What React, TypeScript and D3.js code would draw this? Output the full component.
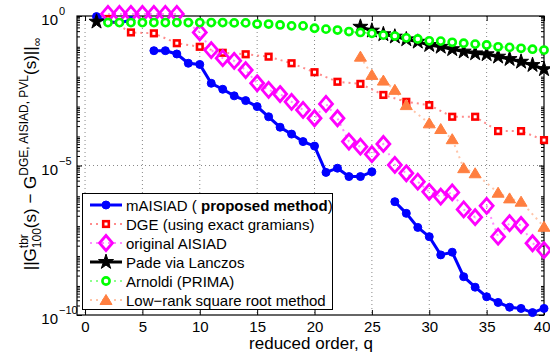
import React, { useRef, useEffect } from "react";
import * as d3 from "d3";

// axis ticks
const xTicks = [0, 5, 10, 15, 20, 25, 30, 35, 40];
const yTickExps = [0, -5, -10];

// values are log10 of the error, null = break in the line
const maisiadQ = [1, 2, 3, 4, 5, 6, 7, 8, 9, 10, 11, 12, 13, 14, 15, 16, 17, 18, 19, 20,
  21, 22, 23, 24, 25, 26, 27, 28, 29, 30, 31, 32, 33, 34, 35, 36, 37, 38, 39, 40];
const maisiadExp = [-0.02, -0.2, -0.22, -0.15, null, -1.16, -1.16, -1.27, -1.58, -1.62,
  -2.25, -2.45, -2.67, -2.83, -3.03, -3.37, -3.72, -3.95, -4.2, -4.35,
  -5.23, -5.09, -5.37, -5.37, -5.21, null, -6.21, -6.6, -7.07, -7.38,
  -7.99, -7.9, -8.72, -9.07, -9.39, -9.58, -9.74, -9.78, -9.92, -9.78];

const dgeQ = [2, 4, 6, 8, 10, 12, 14, 16, 18, 20, 22, 24, 26, 28, 30, 32, 34, 36, 38, 40];
const dgeExp = [-0.1, -0.55, -0.58, -0.91, -1.03, -1.23, -1.28, -1.36, -1.58, -1.88,
  -2.2, -2.27, -2.64, -2.87, -2.98, -3.37, -3.37, -3.85, -3.85, -4.15];

const aisiadQ = [2, 3, 4, 5, 6, 7, 8, 10, 11, 12, 13, 14, 15, 16, 17, 18, 19, 20, 21, 22,
  23, 24, 25, 26, 27, 28, 29, 30, 31, 32, 33, 34, 35, 36, 37, 38, 39, 40];
const aisiadExp = [0.07, 0.07, 0.07, 0.07, 0.07, 0.07, 0.07, -0.55, -1.14, -1.41,
  -1.5, -1.81, -2.25, -2.47, -2.61, -2.87, -3.14, -3.42, -2.94, -3.42,
  -4.2, -4.37, -4.62, -4.28, -4.98, -5.26, -5.54, -5.88, -6.04, -5.9,
  -6.47, -6.73, -6.35, -7.38, -6.93, -6.99, -7.6, -7.83];

const padeQ = [1, 2, 24, 25, 26, 27, 28, 29, 30, 31, 32, 33, 34, 35, 36, 37, 38, 39, 40];
const padeExp = [-0.19, null, -0.36, -0.49, -0.61, -0.69, -0.78, -0.86, -0.97, -1.03,
  -1.11, -1.19, -1.25, -1.28, -1.36, -1.44, -1.53, -1.64, -1.78];

const arnoldiQ = [2, 3, 4, 5, 6, 7, 8, 9, 10, 11, 12, 13, 14, 15, 16, 17, 18, 19, 20, 21,
  22, 23, 24, 25, 26, 27, 28, 29, 30, 31, 32, 33, 34, 35, 36, 37, 38, 39, 40];
const arnoldiExp = [-0.22, -0.22, -0.22, -0.22, -0.22, -0.22, -0.22, -0.22, -0.22, -0.22,
  -0.22, -0.23, -0.23, -0.27, -0.27, -0.3, -0.33, -0.33, -0.41, -0.44,
  -0.47, -0.52, -0.55, -0.58, -0.64, -0.67, -0.73, -0.77, -0.83, -0.84,
  -0.88, -0.91, -0.94, -0.97, -1.03, -1.05, -1.08, -1.11, -1.14];

const lowRankQ = [24, 25, 26, 27, 28, 30, 31, 32, 33, 34, 36, 37, 38, 40];
const lowRankExp = [-1.36, -1.97, -2.16, -2.47, -2.98, -3.59, -3.78, -4.12, -5.09, -5.26,
  -5.91, -6.1, -6.21, -7.05];

const legendLabels = [
  "mAISIAD",
  "DGE (using exact gramians)",
  "original AISIAD",
  "Pade via Lanczos",
  "Arnoldi (PRIMA)",
  "Low\u2212rank square root method",
];

type Pt = [number, number | null];

const FONT = "'Liberation Sans', Arial, Helvetica, sans-serif";

export default function App() {
  const ref = useRef<SVGSVGElement | null>(null);

  useEffect(() => {
    const svg = d3.select(ref.current);
    svg.selectAll("*").remove();

    const left = 77, right = 544, top = 16, bottom = 315;
    const x = d3.scaleLinear().domain([-0.7, 40]).range([left, right]);
    const y = d3.scaleLog().domain([1e-10, 1]).range([bottom, top]);
    const yv = (e: number) => y(Math.pow(10, e));

    svg.append("rect").attr("width", 550).attr("height", 356).attr("fill", "#fff");

    // dotted grid
    const grid = svg.append("g").attr("stroke", "#888").attr("stroke-dasharray", "1,3");
    grid.selectAll("line.gx")
      .data(xTicks.filter((t) => t < 40))
      .join("line")
      .attr("x1", (d) => x(d)).attr("x2", (d) => x(d))
      .attr("y1", top).attr("y2", bottom);
    grid.selectAll("line.gy")
      .data(yTickExps.filter((e) => e !== 0 && e !== -10))
      .join("line")
      .attr("x1", left).attr("x2", right)
      .attr("y1", (d) => yv(d)).attr("y2", (d) => yv(d));

    // axes (inward ticks)
    const xAxis = svg.append("g")
      .attr("transform", `translate(0,${bottom})`)
      .call(d3.axisBottom(x).tickValues(xTicks).tickSize(-5).tickPadding(6).tickFormat(d3.format("d")));
    xAxis.selectAll("text").style("font-family", FONT).style("font-size", "15px").attr("fill", "#000");
    // last label sits against the window edge
    xAxis.selectAll<SVGTextElement, number>("text")
      .filter((d) => d === 40)
      .attr("text-anchor", "end")
      .attr("x", 6);
    svg.append("g")
      .attr("transform", `translate(0,${top})`)
      .call(d3.axisTop(x).tickValues(xTicks).tickSize(-5).tickFormat(() => ""));
    svg.append("g")
      .attr("transform", `translate(${left},0)`)
      .call(d3.axisLeft(y).tickValues(yTickExps.map((e) => Math.pow(10, e))).tickSize(-5).tickFormat(() => ""));
    svg.append("g")
      .attr("transform", `translate(${right},0)`)
      .call(d3.axisRight(y).tickValues(yTickExps.map((e) => Math.pow(10, e))).tickSize(-5).tickFormat(() => ""));
    svg.selectAll(".domain").remove();
    svg.selectAll(".tick line").attr("stroke", "#000");

    // log minor ticks
    const minors: number[] = [];
    for (let k = -10; k < 0; k++) for (let m = 2; m <= 9; m++) minors.push(m * Math.pow(10, k));
    const mg = svg.append("g").attr("stroke", "#000");
    mg.selectAll("line.ml").data(minors).join("line")
      .attr("x1", left).attr("x2", left + 3).attr("y1", (d) => y(d)).attr("y2", (d) => y(d));
    mg.selectAll("line.mr").data(minors).join("line")
      .attr("x1", right).attr("x2", right - 3).attr("y1", (d) => y(d)).attr("y2", (d) => y(d));

    // y tick labels 10^k
    yTickExps.forEach((e) => {
      svg.append("text").attr("font-family", FONT).attr("fill", "#000")
        .attr("x", 58).attr("y", yv(e) + 9).attr("text-anchor", "end")
        .attr("font-size", 15).text("10");
      svg.append("text").attr("font-family", FONT).attr("fill", "#000")
        .attr("x", 59).attr("y", yv(e) - 1).attr("font-size", 11)
        .text(e === 0 ? "0" : "\u2212" + String(-e));
    });

    // frame
    svg.append("rect")
      .attr("x", left).attr("y", top)
      .attr("width", right - left).attr("height", bottom - top)
      .attr("fill", "none").attr("stroke", "#000").attr("stroke-width", 1.2);

    const zip = (qs: number[], es: (number | null)[]): Pt[] => qs.map((q, i) => [q, es[i]]);
    const line = d3.line<Pt>()
      .defined((d) => d[1] !== null)
      .x((d) => x(d[0]))
      .y((d) => yv(d[1] as number));

    const diamond = "M0,-7.5L6.5,0L0,7.5L-6.5,0Z";
    const triangle = "M0,-5.5L6,4.5L-6,4.5Z";
    const star = d3.symbol().type(d3.symbolStar).size(70)() as string;

    const series = [
      { pts: zip(maisiadQ, maisiadExp), color: "#0000ff", lw: 3, dash: null, marker: "circle" },
      { pts: zip(dgeQ, dgeExp), color: "#ff0000", lw: 2, dash: "2,4", marker: "square" },
      { pts: zip(aisiadQ, aisiadExp), color: "#ff00ff", lw: 2, dash: "2,4", marker: "diamond" },
      { pts: zip(padeQ, padeExp), color: "#000000", lw: 3, dash: null, marker: "star" },
      { pts: zip(arnoldiQ, arnoldiExp), color: "#00ff00", lw: 2, dash: "2,4", marker: "ring" },
      { pts: zip(lowRankQ, lowRankExp), color: "#ff7f40", lw: 2, dash: "2,4", marker: "triangle" },
    ];

    const drawMarker = (g: d3.Selection<SVGGElement, unknown, null, undefined>, kind: string, color: string) => {
      if (kind === "circle") {
        g.append("circle").attr("r", 4).attr("fill", color).attr("stroke", color).attr("stroke-width", 1);
      } else if (kind === "square") {
        g.append("rect").attr("x", -2.8).attr("y", -2.8).attr("width", 5.6).attr("height", 5.6)
          .attr("fill", "#fff").attr("stroke", color).attr("stroke-width", 2.6);
      } else if (kind === "diamond") {
        g.append("path").attr("d", diamond).attr("fill", "none").attr("stroke", color).attr("stroke-width", 2.8);
      } else if (kind === "star") {
        g.append("path").attr("d", star).attr("fill", color).attr("stroke", color).attr("stroke-width", 1);
      } else if (kind === "ring") {
        g.append("circle").attr("r", 3.6).attr("fill", "#fff").attr("stroke", color).attr("stroke-width", 2.6);
      } else if (kind === "triangle") {
        g.append("path").attr("d", triangle).attr("fill", color).attr("stroke", color).attr("stroke-width", 1);
      }
    };

    const plot = svg.append("g");
    series.forEach((s) => {
      plot.append("path")
        .attr("d", line(s.pts))
        .attr("fill", "none")
        .attr("stroke", s.color)
        .attr("stroke-width", s.lw)
        .attr("stroke-opacity", s.dash ? 0.45 : 1)
        .attr("stroke-dasharray", s.dash);
      s.pts.filter((d) => d[1] !== null).forEach((d) => {
        const g = plot.append("g").attr("transform", `translate(${x(d[0])},${yv(d[1] as number)})`);
        drawMarker(g, s.marker, s.color);
      });
    });

    // legend
    const lg = svg.append("g");
    lg.append("rect").attr("x", 82.5).attr("y", 193.5).attr("width", 250).attr("height", 116)
      .attr("fill", "#fff").attr("stroke", "#000").attr("stroke-width", 1);
    series.forEach((s, i) => {
      const cy = 205 + i * 19;
      lg.append("line").attr("x1", 90).attr("x2", 122).attr("y1", cy).attr("y2", cy)
        .attr("stroke", s.color).attr("stroke-width", s.lw)
        .attr("stroke-opacity", s.dash ? 0.45 : 1)
        .attr("stroke-dasharray", s.dash);
      drawMarker(lg.append("g").attr("transform", `translate(106,${cy})`), s.marker, s.color);
      const t = lg.append("text").attr("x", 126).attr("y", cy + 5.5)
        .attr("font-family", FONT).attr("font-size", 15).attr("fill", "#000");
      if (i === 0) {
        t.append("tspan").text(legendLabels[0] + " ( ");
        t.append("tspan").attr("font-weight", "bold").text("proposed method");
        t.append("tspan").text(")");
      } else {
        t.text(legendLabels[i]);
      }
    });

    // x label
    svg.append("text").attr("x", 311).attr("y", 349).attr("text-anchor", "middle")
      .attr("font-family", FONT).attr("font-size", 17).attr("fill", "#000")
      .text("reduced order, q");

    // y label with stacked sub/superscripts
    const yl = svg.append("g").attr("font-family", FONT).attr("fill", "#000");
    const measure = (txt: string, size: number) => {
      const tmp = yl.append("text").attr("font-size", size).text(txt);
      const w = (tmp.node() as SVGTextElement).getComputedTextLength();
      tmp.remove();
      return w;
    };
    const big = 17, small = 12;
    const parts: { main?: string; sup?: string; sub?: string }[] = [
      { main: "||G" },
      { sup: "tbr", sub: "100" },
      { main: "(s) \u2212 G" },
      { sup: "DGE, AISIAD, PVL" },
      { main: "(s)||" },
      { sub: "\u221e" },
    ];
    const widths = parts.map((p) =>
      p.main ? measure(p.main, big) : Math.max(p.sup ? measure(p.sup, small) : 0, p.sub ? measure(p.sub, small) : 0)
    );
    const total = d3.sum(widths);
    const inner = yl.append("g").attr("transform", "translate(36,154) rotate(-90)");
    let cx = -total / 2;
    parts.forEach((p, i) => {
      if (p.main) inner.append("text").attr("x", cx).attr("y", 0).attr("font-size", big).text(p.main);
      if (p.sup) inner.append("text").attr("x", cx).attr("y", -8).attr("font-size", small).text(p.sup);
      if (p.sub) inner.append("text").attr("x", cx).attr("y", 5).attr("font-size", small).text(p.sub);
      cx += widths[i];
    });
  }, []);

  return (
    <svg
      ref={ref}
      width={550}
      height={356}
      style={{ position: "absolute", left: 0, top: 0 }}
    />
  );
}
